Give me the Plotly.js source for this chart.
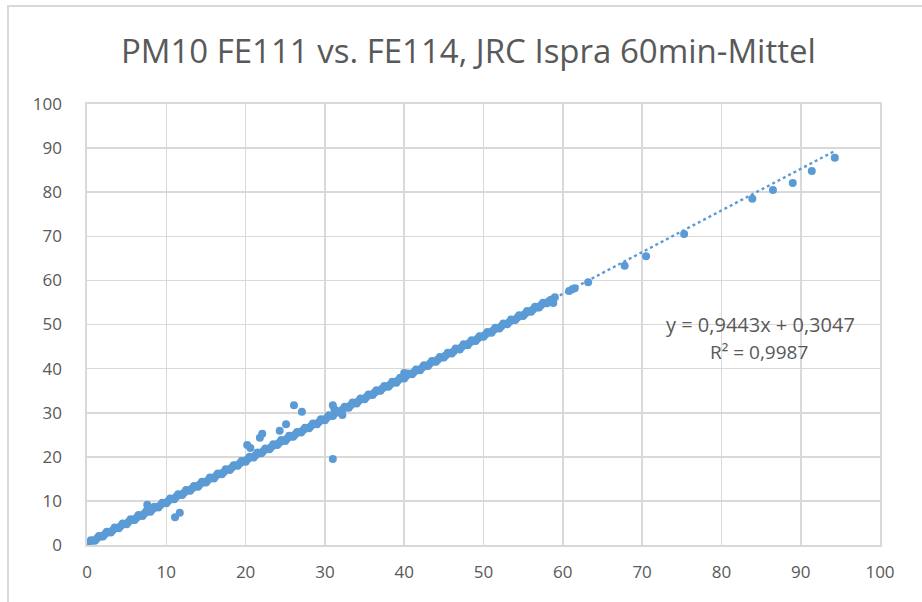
<!DOCTYPE html>
<html><head><meta charset="utf-8">
<script src="https://cdn.plot.ly/plotly-3.0.1.min.js"></script>
<style>
html,body{margin:0;padding:0;background:#fff;}
#frame{position:absolute;left:7px;top:5px;width:930px;height:620px;border:2px solid #d9d9d9;box-sizing:border-box;}
#chart{position:absolute;left:0;top:0;width:922px;height:602px;}
</style>
</head><body>
<div id="frame"></div>
<div id="chart"></div>
<script>
// Dense band (FE111 x, FE114 y) - upper/lower edges of the band
const bandX = [0.5,1.0,1.5,2.0,2.5,3.0,3.5,4.0,4.5,5.0,5.5,6.0,6.5,7.0,7.5,8.0,8.5,9.0,9.5,10,10.5,11,11.5,12,12.5,13,13.5,14,14.5,15,15.5,16,16.5,17,17.5,18,18.5,19,19.5,20,20.5,21,21.5,22,22.5,23,23.5,24,24.5,25,25.5,26,26.5,27,27.5,28,28.5,29,29.5,30,30.5,31,31.5,32,32.5,33,33.5,34,34.5,35,35.5,36,36.5,37,37.5,38,38.5,39,39.5,40,40.5,41,41.5,42,42.5,43,43.5,44,44.5,45,45.5,46,46.5,47,47.5,48,48.5,49,49.5,50,50.5,51,51.5,52,52.5,53,53.5,54,54.5,55,55.5,56,56.5,57,57.5,58,58.5];
const bandY = [1.1,0.95,2.05,1.9,3.0,2.85,3.95,3.8,4.9,4.7,5.85,5.65,6.8,6.6,7.7,7.55,8.7,8.5,9.6,9.45,10.55,10.4,11.5,11.35,12.45,12.3,13.4,13.2,14.35,14.15,15.3,15.1,16.2,16.05,17.15,17.0,18.1,17.95,19.05,18.9,20.0,19.85,20.95,20.8,21.9,21.7,22.85,22.65,23.8,23.6,24.75,24.55,25.65,25.5,26.6,26.45,27.55,27.4,28.5,28.3,29.45,29.25,30.4,30.2,31.35,31.15,32.3,32.1,33.2,33.05,34.15,34.0,35.1,34.95,36.05,35.9,37.0,36.8,37.95,37.75,38.9,38.7,39.8,39.65,40.75,40.6,41.7,41.55,42.65,42.5,43.6,43.4,44.55,44.35,45.5,45.3,46.45,46.25,47.35,47.2,48.3,48.15,49.25,49.1,50.2,50.05,51.15,51.0,52.1,51.95,53.05,52.9,54.0,53.85,54.95,54.8,55.6];
// Dense band - centre of the band
const midX = [0.25,0.75,1.25,1.75,2.25,2.75,3.25,3.75,4.25,4.75,5.25,5.75,6.25,6.75,7.25,7.75,8.25,8.75,9.25,9.75,10.25,10.75,11.25,11.75,12.25,12.75,13.25,13.75,14.25,14.75,15.25,15.75,16.25,16.75,17.25,17.75,18.25,18.75,19.25,19.75,20.25,20.75,21.25,21.75,22.25,22.75,23.25,23.75,24.25,24.75,25.25,25.75,26.25,26.75,27.25,27.75,28.25,28.75,29.25,29.75,30.25,30.75,31.25,31.75,32.25,32.75,33.25,33.75,34.25,34.75,35.25,35.75,36.25,36.75,37.25,37.75,38.25,38.75,39.25,39.75,40.25,40.75,41.25,41.75,42.25,42.75,43.25,43.75,44.25,44.75,45.25,45.75,46.25,46.75,47.25,47.75,48.25,48.75,49.25,49.75,50.25,50.75,51.25,51.75,52.25,52.75,53.25,53.75,54.25,54.75,55.25,55.75,56.25,56.75,57.25,57.75,58.25];
const midY = [0.54,1.01,1.48,1.95,2.42,2.90,3.37,3.84,4.31,4.78,5.26,5.73,6.20,6.67,7.14,7.62,8.09,8.56,9.03,9.50,9.98,10.45,10.92,11.39,11.86,12.34,12.81,13.28,13.75,14.22,14.70,15.17,15.64,16.11,16.58,17.06,17.53,18.00,18.47,18.94,19.42,19.89,20.36,20.83,21.30,21.78,22.25,22.72,23.19,23.66,24.14,24.61,25.08,25.55,26.02,26.50,26.97,27.44,27.91,28.38,28.86,29.33,29.80,30.27,30.74,31.22,31.69,32.16,32.63,33.10,33.58,34.05,34.52,34.99,35.46,35.94,36.41,36.88,37.35,37.82,38.30,38.77,39.24,39.71,40.18,40.66,41.13,41.60,42.07,42.54,43.02,43.49,43.96,44.43,44.90,45.38,45.85,46.32,46.79,47.26,47.74,48.21,48.68,49.15,49.62,50.10,50.57,51.04,51.51,51.98,52.46,52.93,53.40,53.87,54.34,54.82,55.29];
// Outliers
const outX = [7.6,11.1,11.7,20.2,20.6,21.8,22.1,24.3,25.1,26.1,27.1,31.0,31.0,31.2,32.2,40.0,58.8,59.0];
const outY = [9.1,6.3,7.3,22.7,22.0,24.3,25.2,25.9,27.4,31.7,30.2,19.5,31.7,30.8,29.5,39.0,54.9,56.2];
// Upper sparse points
const highX = [60.8,61.2,61.5,63.2,67.8,70.5,75.3,83.9,86.5,89.0,91.4,94.3];
const highY = [57.6,58.0,58.2,59.6,63.3,65.5,70.5,78.5,80.5,82.1,84.8,87.8];
// Trendline parameters (as printed on chart)
const slope = 0.9443, intercept = 0.3047, r2 = 0.9987;
const tickVals = [0,10,20,30,40,50,60,70,80,90,100];

const allX = bandX.concat(midX, outX, highX);
const allY = bandY.concat(midY, outY, highY);
const xmax = Math.max.apply(null, allX);
const trendX = [0, xmax];
const trendY = trendX.map(v => slope * v + intercept);

const blue = '#5B9BD5';
const gray = '#595959';
const font = '"Open Sans", Lato, sans-serif';
const fmt = v => v.toString().replace('.', ',');

const data = [
  {x: allX, y: allY, mode: 'markers', type: 'scatter',
   marker: {color: blue, size: 8}, hoverinfo: 'x+y'},
  {x: trendX, y: trendY, mode: 'lines', type: 'scatter',
   line: {color: blue, width: 2.4, dash: 'dot'}}
];

const axisCommon = {
  range: [0, 100], tickvals: tickVals, showgrid: true, gridcolor: '#d9d9d9', gridwidth: 1.6,
  zeroline: false, showline: true, linecolor: '#d9d9d9', linewidth: 1.6, mirror: true,
  tickfont: {family: font, size: 17, color: gray}, ticks: ''
};

const layout = {
  width: 922, height: 602,
  margin: {l: 87, r: 42, t: 104, b: 57},
  paper_bgcolor: 'rgba(0,0,0,0)', plot_bgcolor: '#fff',
  showlegend: false,
  title: {text: 'PM10 FE111 vs. FE114, JRC Ispra 60min-Mittel',
          font: {family: font, size: 33, color: gray},
          x: 0.508, xanchor: 'center', y: 0.915, yanchor: 'middle'},
  xaxis: Object.assign({}, axisCommon, {ticklabelstandoff: 11}),
  yaxis: Object.assign({}, axisCommon, {ticklabelstandoff: 20}),
  annotations: [
    {x: 84.9, y: 49.9, xref: 'x', yref: 'y', showarrow: false, xanchor: 'center', yanchor: 'middle',
     text: 'y = ' + fmt(slope) + 'x + ' + fmt(intercept),
     font: {family: font, size: 20, color: gray}},
    {x: 84.7, y: 43.8, xref: 'x', yref: 'y', showarrow: false, xanchor: 'center', yanchor: 'middle',
     text: 'R² = ' + fmt(r2),
     font: {family: font, size: 19, color: gray}}
  ]
};

Plotly.newPlot('chart', data, layout, {displayModeBar: false, staticPlot: true});
</script>
</body></html>
